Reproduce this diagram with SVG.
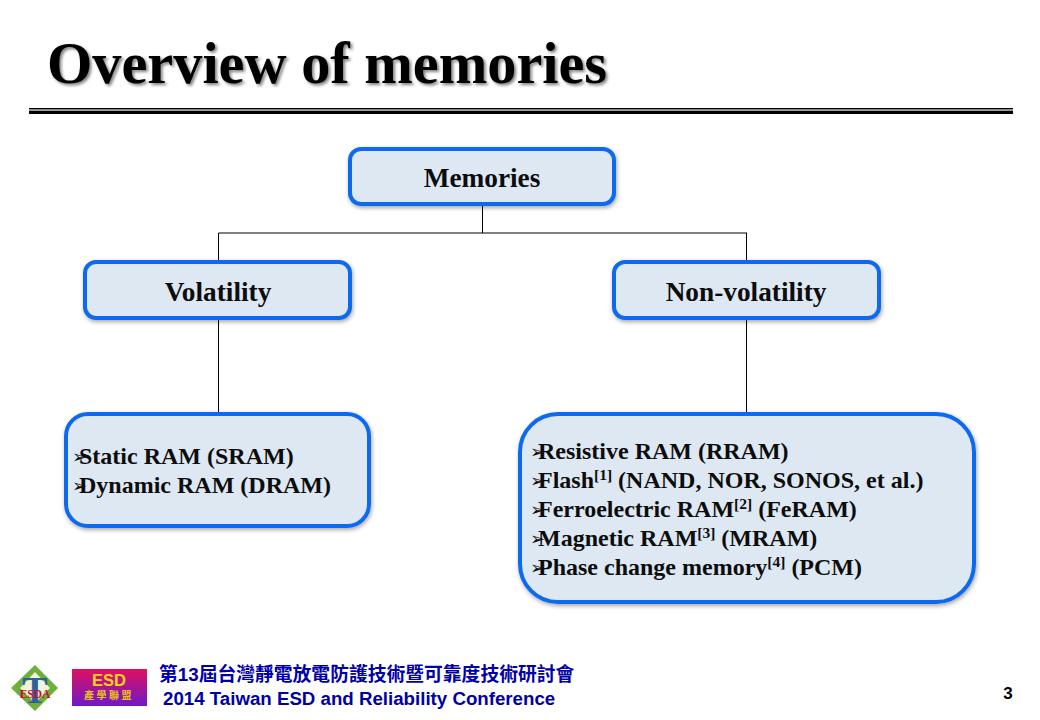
<svg xmlns="http://www.w3.org/2000/svg" width="1040" height="720" viewBox="0 0 1040 720">
<style>
.t{font-family:"Liberation Serif","Noto Sans CJK TC",serif;font-weight:700;fill:#0d0d0d}
.n{font-size:27.300px;text-anchor:middle}
.b{font-size:24px}
.box{fill:#dee8f3;stroke:#0f6bee;stroke-width:4;filter:url(#bs)}
.c{fill:none;stroke:#000;stroke-width:1}
.m{font-family:"DejaVu Sans",sans-serif;font-size:18px}
.f{font-family:"Liberation Sans","Noto Sans CJK TC",sans-serif;font-weight:700;fill:#0000a8}
</style>
<defs>
<filter id="bs" x="-5%" y="-10%" width="110%" height="125%"><feDropShadow dx="1" dy="2" stdDeviation="2" flood-color="#000" flood-opacity=".35"/></filter>
<filter id="ts" x="-3%" y="-10%" width="106%" height="125%"><feDropShadow dx="2" dy="2" stdDeviation="1.500" flood-color="#000" flood-opacity=".5"/></filter>
<linearGradient id="g" x1="0" y1="0" x2="0" y2="1"><stop offset="0" stop-color="#e0105f"/><stop offset="1" stop-color="#6f18c8"/></linearGradient>
</defs>
<rect width="1040" height="720" fill="#fff"/>
<g id="title"><text class="t" x="47" y="83" font-size="58.300" style="fill:#000" filter="url(#ts)">Overview of memories</text>
<rect x="29" y="108" width="984" height="1.500" fill="#000"/><rect x="29" y="109.500" width="984" height="1.500" fill="#999"/><rect x="29" y="111" width="984" height="3" fill="#000"/></g>
<g id="connectors">
<path class="c" d="M482.500 205V233M218.500 233H747M218.500 233V261M746.500 233V261M218.500 319V413M746.500 319V413"/>
</g>
<g id="memories"><rect class="box" x="350" y="149" width="264" height="55" rx="11"/><text class="t n" x="482" y="187">Memories</text></g>
<g id="volatility"><rect class="box" x="85" y="262" width="265" height="56" rx="11"/><text class="t n" x="218" y="301">Volatility</text></g>
<g id="nonvolatility"><rect class="box" x="614" y="262" width="265" height="56" rx="11"/><text class="t n" x="746" y="301">Non-volatility</text></g>
<g id="volatile-list"><rect class="box" x="66" y="414" width="303" height="112" rx="22"/>
<text class="t m" x="72" y="463">➢</text><text class="t b" x="79" y="464">Static RAM (SRAM)</text>
<text class="t m" x="72" y="492">➢</text><text class="t b" x="79" y="493">Dynamic RAM (DRAM)</text></g>
<g id="nonvolatile-list"><rect class="box" x="520" y="414" width="454" height="188" rx="38"/>
<text class="t m" x="530" y="458">➢</text><text class="t b" x="538" y="459">Resistive RAM (RRAM)</text>
<text class="t m" x="530" y="487">➢</text><text class="t b" x="538" y="488">Flash<tspan font-size="15.500" dy="-8">[1]</tspan><tspan dy="8"> (NAND, NOR, SONOS, et al.)</tspan></text>
<text class="t m" x="530" y="516">➢</text><text class="t b" x="538" y="517">Ferroelectric RAM<tspan font-size="15.500" dy="-8">[2]</tspan><tspan dy="8"> (FeRAM)</tspan></text>
<text class="t m" x="530" y="545">➢</text><text class="t b" x="538" y="546">Magnetic RAM<tspan font-size="15.500" dy="-8">[3]</tspan><tspan dy="8"> (MRAM)</tspan></text>
<text class="t m" x="530" y="574">➢</text><text class="t b" x="538" y="575">Phase change memory<tspan font-size="15.500" dy="-8">[4]</tspan><tspan dy="8"> (PCM)</tspan></text></g>
<g id="footer">
<path d="M35 665L58 688L35 711L11 688Z" fill="#6fae3a"/><path d="M35 672L50 688L35 703L20 688Z" fill="#f3f3d8"/>
<text x="35" y="703" text-anchor="middle" font-family="Liberation Serif,serif" font-weight="700" font-size="38" fill="#2f5f9e">T</text>
<text x="35" y="698" text-anchor="middle" font-family="Liberation Serif,serif" font-weight="700" font-size="11.500" fill="#c8102e">ESDA</text>
<rect x="72" y="669" width="75" height="37" fill="url(#g)"/>
<text x="109" y="686" text-anchor="middle" font-family="Liberation Sans,sans-serif" font-weight="700" font-size="16.500" fill="#f7d417">ESD</text>
<text x="109" y="699" text-anchor="middle" font-family="Noto Sans CJK TC,sans-serif" font-weight="700" font-size="10" letter-spacing="2.500" fill="#e8c020">產學聯盟</text>
<text class="f" x="159" y="681" font-size="18.800">第13屆台灣靜電放電防護技術暨可靠度技術研討會</text>
<text class="f" x="163" y="705" font-size="18.700">2014 Taiwan ESD and Reliability Conference</text>
<text x="1008" y="699" text-anchor="middle" font-family="Liberation Sans,sans-serif" font-weight="700" font-size="17" fill="#000">3</text>
</g>
</svg>
